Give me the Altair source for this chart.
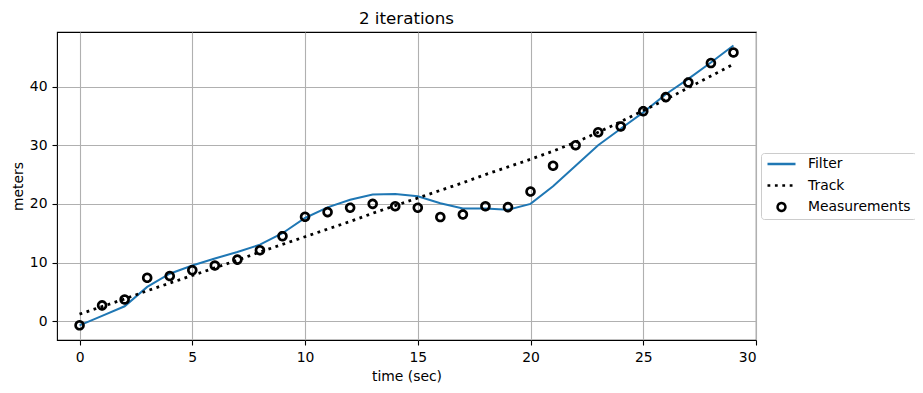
import altair as alt
import pandas as pd

t = list(range(30))

measurements = [-0.7, 2.7, 3.7, 7.4, 7.7, 8.7, 9.5, 10.5, 12.1, 14.5,
                17.8, 18.6, 19.35, 20.0, 19.6, 19.35, 17.75, 18.2, 19.6, 19.45,
                22.1, 26.5, 30.0, 32.2, 33.2, 35.8, 38.2, 40.7, 44.0, 45.8]

filter_vals = [-0.7, 0.9, 2.55, 5.85, 8.1, 9.5, 10.7, 11.8, 13.05, 15.0,
               17.6, 19.4, 20.7, 21.6, 21.7, 21.3, 20.1, 19.2, 19.2, 19.0,
               20.0, 23.0, 26.5, 30.0, 32.8, 35.6, 38.7, 41.3, 44.1, 47.0]

track_vals = [1.2, 2.5, 3.8, 5.2, 6.5, 7.8, 9.1, 10.4, 11.8, 13.1,
              14.4, 15.7, 17.0, 18.4, 19.7, 21.0, 22.3, 23.6, 25.0, 26.3,
              27.6, 29.0, 30.5, 32.2, 34.0, 35.9, 37.8, 39.8, 41.8, 43.8]

series_names = ["Filter", "Track", "Measurements"]
series_colors = ["#1f77b4", "black", "black"]
CIRCLE = "M-0.28,0A0.28,0.28 0 1,1 0.28,0A0.28,0.28 0 1,1 -0.28,0Z"
LINE = "M-1,0L1,0"
series_shapes = [LINE, LINE, CIRCLE]
series_dashes = [[1, 0], [2.8, 4.6], [1, 0]]

x_ticks = [0, 5, 10, 15, 20, 25, 30]
y_ticks = [0, 10, 20, 30, 40]

df_f = pd.DataFrame({"t": t, "v": filter_vals})
df_t = pd.DataFrame({"t": t, "v": track_vals})
df_m = pd.DataFrame({"t": t, "v": measurements, "series": "Measurements"})

FONT = "DejaVu Sans"

x_enc = alt.X("t:Q", title="time (sec)",
              scale=alt.Scale(domain=[-1, 30], nice=False, zero=False),
              axis=alt.Axis(values=x_ticks, titlePadding=6))
y_enc = alt.Y("v:Q", title="meters",
              scale=alt.Scale(domain=[-3.2, 49.3], nice=False, zero=False),
              axis=alt.Axis(values=y_ticks, titlePadding=4))

legend = alt.Legend(
    title=None, orient="none", legendX=704, legendY=121,
    padding=5, strokeColor="#cccccc", fillColor="white", cornerRadius=3,
    clipHeight=12, rowPadding=7.5, symbolSize=784, symbolStrokeWidth=2.5,
    symbolOpacity=1, symbolFillColor="transparent",
    labelFont=FONT, labelFontSize=13.9, labelOffset=11, labelColor="black",
)

filt = alt.Chart(df_f).mark_line(strokeWidth=2, color="#1f77b4").encode(x=x_enc, y=y_enc)
track = alt.Chart(df_t).mark_line(strokeWidth=2.8, strokeDash=[2.8, 4.6], color="black").encode(
    x=x_enc, y=y_enc)
meas = alt.Chart(df_m).mark_point(filled=False, strokeWidth=2.7, opacity=1, size=784).encode(
    x=x_enc, y=y_enc,
    color=alt.Color("series:N", scale=alt.Scale(domain=series_names, range=series_colors),
                    legend=legend),
    shape=alt.Shape("series:N", scale=alt.Scale(domain=series_names, range=series_shapes),
                    legend=legend),
    strokeDash=alt.StrokeDash("series:N", scale=alt.Scale(domain=series_names, range=series_dashes),
                              legend=legend),
)

chart = alt.layer(filt, track, meas).properties(
    width=699, height=308,
    title=alt.TitleParams("2 iterations", font=FONT, fontSize=16.7,
                          fontWeight="normal", color="black", offset=4),
    autosize=alt.AutoSizeParams(type="none"),
    padding={"left": 49, "top": 24, "right": 159, "bottom": 45},
).configure_view(
    stroke="black", strokeWidth=1.1
).configure_axis(
    labelFont=FONT, labelFontSize=13.9, labelColor="black",
    titleFont=FONT, titleFontSize=13.9, titleFontWeight="normal", titleColor="black",
    tickSize=5, tickColor="black", tickWidth=1.1, labelPadding=5,
    domain=False, grid=True, gridColor="#b0b0b0", gridWidth=1.1,
)

chart.save("out.html", embed_options={"renderer": "svg", "actions": False})
